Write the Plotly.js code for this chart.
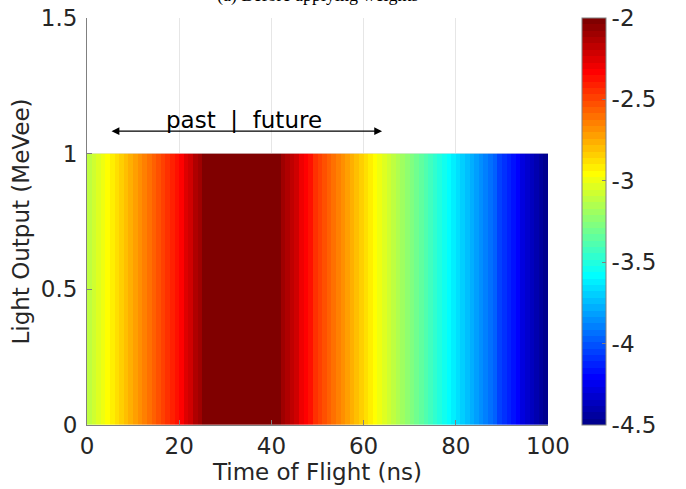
<!DOCTYPE html>
<html>
<head>
<meta charset="utf-8">
<script src="https://cdn.plot.ly/plotly-3.0.1.min.js"></script>
<style>html,body{margin:0;padding:0;background:#fff;}#chart{width:686px;height:489px;}</style>
</head>
<body>
<div id="chart"></div>
<script>
// Time-of-flight bin centres (ns), 1 ns bins from 0 to 100
const timeOfFlight = Array.from({length: 100}, (_, i) => i + 0.5);
// Light output bin edges (MeVee)
const lightOutputEdges = [0, 1];
// log10 weight per time-of-flight bin
const logValues = [
  -3.10, -3.06, -3.02, -2.98, -2.95, -2.91, -2.87, -2.83, -2.79, -2.75,
  -2.71, -2.67, -2.64, -2.60, -2.56, -2.52, -2.50, -2.46, -2.42, -2.37,
  -2.32, -2.26, -2.20, -2.14, -2.08, -2.03, -1.99, -1.96, -1.93, -1.91,
  -1.89, -1.88, -1.87, -1.87, -1.88, -1.89, -1.90, -1.92, -1.94, -1.96,
  -1.98, -2.02, -2.08, -2.13, -2.18, -2.23, -2.28, -2.33, -2.38, -2.43,
  -2.47, -2.52, -2.56, -2.61, -2.65, -2.69, -2.73, -2.77, -2.81, -2.84,
  -2.88, -2.91, -2.95, -2.98, -3.02, -3.06, -3.10, -3.14, -3.18, -3.22,
  -3.26, -3.30, -3.35, -3.39, -3.43, -3.47, -3.51, -3.55, -3.59, -3.63,
  -3.67, -3.71, -3.75, -3.79, -3.83, -3.87, -3.91, -3.95, -3.99, -4.04,
  -4.08, -4.13, -4.17, -4.22, -4.27, -4.31, -4.35, -4.39, -4.43, -4.47
];
const colorTicks = [-2, -2.5, -3, -3.5, -4, -4.5];
const colorTickText = ['-2', '-2.5', '-3', '-3.5', '-4', '-4.5'];
const xTicks = [0, 20, 40, 60, 80, 100];
const yTicks = [0, 0.5, 1, 1.5];
const yTickText = ['0', '0.5', '1', '1.5'];

// MATLAB jet(64) discrete colour map
function jet(m) {
  const n = Math.ceil(m / 4);
  const u = [];
  for (let i = 1; i <= n; i++) u.push(i / n);
  for (let i = 0; i < n - 1; i++) u.push(1);
  for (let i = n; i >= 1; i--) u.push(i / n);
  const gOff = Math.ceil(n / 2) - (m % 4 === 1 ? 1 : 0);
  const J = Array.from({length: m}, () => [0, 0, 0]);
  for (let k = 0; k < u.length; k++) {
    const g = gOff + k + 1, r = g + n, b = g - n;
    if (r >= 1 && r <= m) J[r - 1][0] = u[k];
    if (g >= 1 && g <= m) J[g - 1][1] = u[k];
    if (b >= 1 && b <= m) J[b - 1][2] = u[k];
  }
  return J.map(c => 'rgb(' + c.map(v => Math.round(v * 255)).join(',') + ')');
}
const jetColors = jet(64);
const colorscale = [];
jetColors.forEach((c, i) => {
  colorscale.push([i / 64, c]);
  colorscale.push([(i + 1) / 64, c]);
});

const FONT = 'DejaVu Sans, sans-serif';
const FS = 23;
const AX = '#262626';

const trace = {
  type: 'heatmap',
  x: timeOfFlight,
  y: lightOutputEdges,
  z: [logValues],
  zmin: -4.5,
  zmax: -2,
  zsmooth: false,
  colorscale: colorscale,
  colorbar: {
    x: 1.0738, xanchor: 'left', xref: 'paper',
    y: 0, yanchor: 'bottom', len: 1, lenmode: 'fraction',
    thickness: 24, thicknessmode: 'pixels',
    outlinewidth: 1, outlinecolor: '#808080',
    ticks: 'inside', ticklen: 4, tickcolor: '#808080',
    tickvals: colorTicks, ticktext: colorTickText,
    tickfont: {family: FONT, size: FS, color: AX},
    xpad: 0, ypad: 0
  },
  hoverinfo: 'skip'
};

const layout = {
  width: 686, height: 489,
  margin: {l: 87, r: 138, t: 18, b: 64},
  paper_bgcolor: '#fff', plot_bgcolor: '#fff',
  font: {family: FONT, size: FS, color: AX},
  showlegend: false,
  xaxis: {
    range: [0, 100], tickvals: xTicks, ticktext: xTicks.map(String),
    showgrid: true, gridcolor: '#e6e6e6', gridwidth: 1,
    zeroline: false, showline: true, linecolor: '#808080', linewidth: 1,
    ticks: 'inside', ticklen: 5, tickcolor: '#808080',
    tickfont: {family: FONT, size: FS, color: AX},
    title: {text: 'Time of Flight (ns)', font: {family: FONT, size: FS, color: AX}, standoff: 2}
  },
  yaxis: {
    range: [0, 1.5], tickvals: yTicks, ticktext: yTickText,
    showgrid: true, gridcolor: '#e6e6e6', gridwidth: 1,
    zeroline: false, showline: true, linecolor: '#808080', linewidth: 1,
    ticks: 'inside', ticklen: 5, tickcolor: '#808080',
    ticklabelstandoff: 4,
    tickfont: {family: FONT, size: FS, color: AX},
    title: {text: 'Light Output (MeVee)', font: {family: FONT, size: FS, color: AX}, standoff: 4}
  },
  annotations: [
    {
      xref: 'x', yref: 'y', axref: 'x', ayref: 'y',
      x: 64, y: 1.083, ax: 5, ay: 1.083,
      text: '', showarrow: true, arrowside: 'end+start',
      arrowhead: 2, arrowsize: 1.3, arrowwidth: 1.2, arrowcolor: '#000'
    },
    {
      xref: 'x', yref: 'y', x: 34, y: 1.125,
      text: 'past\u00a0\u00a0|\u00a0\u00a0future', showarrow: false,
      xanchor: 'center', yanchor: 'middle',
      font: {family: FONT, size: FS, color: '#000'}
    },
    {
      xref: 'paper', yref: 'paper', x: 0.5, y: 1, yanchor: 'bottom',
      yshift: 10, showarrow: false,
      text: '(a) Before applying weights',
      font: {family: 'Liberation Serif, serif', size: 18, color: '#000'}
    }
  ]
};

Plotly.newPlot('chart', [trace], layout, {staticPlot: true, displayModeBar: false});
</script>
</body>
</html>
